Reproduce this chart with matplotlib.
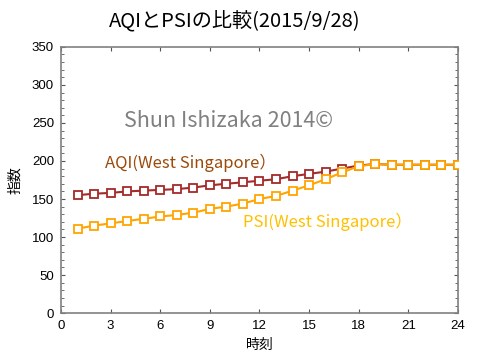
import matplotlib
matplotlib.use("Agg")
import matplotlib.pyplot as plt
from matplotlib.ticker import MultipleLocator

plt.rcParams['font.family'] = ['Noto Sans CJK JP', 'DejaVu Sans']

hours = list(range(1, 25))
aqi = [155, 157, 158, 160, 161, 162, 163, 165, 168, 170, 172, 174,
       176, 180, 183, 186, 190, 194, 196, 195, 195, 195, 195, 195]
psi = [111, 115, 118, 121, 124, 127, 129, 132, 137, 140, 144, 150,
       154, 161, 168, 176, 185, 193, 196, 195, 195, 195, 195, 195]

fig = plt.figure(figsize=(4.8, 3.55), dpi=100)
ax = fig.add_axes([0.127, 0.118, 0.827, 0.75])

ax.plot(hours, aqi, color="#a52a2a", lw=1.5, marker="s", ms=6,
        mfc="white", mec="#a52a2a", mew=1.3, zorder=3)
ax.plot(hours, psi, color="#ffa500", lw=1.5, marker="s", ms=6,
        mfc="white", mec="#ffa500", mew=1.3, zorder=4)

ax.set_xlim(0, 24)
ax.set_ylim(0, 350)
ax.xaxis.set_major_locator(MultipleLocator(3))
ax.yaxis.set_major_locator(MultipleLocator(50))
ax.yaxis.set_minor_locator(MultipleLocator(10))
ax.tick_params(direction="in", which="both", top=True, right=True,
               labelsize=9.5, colors="#555555", labelcolor="black")
ax.tick_params(which="major", length=3, pad=5)
ax.tick_params(which="minor", length=2)
for s in ax.spines.values():
    s.set_color("#808080")
    s.set_linewidth(1.2)
for lbl in ax.get_xticklabels() + ax.get_yticklabels():
    lbl.set_family("Liberation Sans")

ax.set_xlabel("時刻", fontsize=10, labelpad=4)
ax.set_ylabel("指数", fontsize=10, labelpad=7)

fig.text(0.49, 0.94, "AQIとPSIの比較(2015/9/28)", ha="center", va="center",
         fontsize=14.5)

ax.text(10.1, 252, "Shun Ishizaka 2014©", ha="center", va="center",
        fontsize=15.5, color="#808080")
ax.text(2.65, 197, "AQI(West Singapore）", ha="left", va="center",
        fontsize=12, color="#9c4a0a")
ax.text(11.0, 120, "PSI(West Singapore）", ha="left", va="center",
        fontsize=12, color="#ffc000")

fig.savefig("out.png", dpi=100)
